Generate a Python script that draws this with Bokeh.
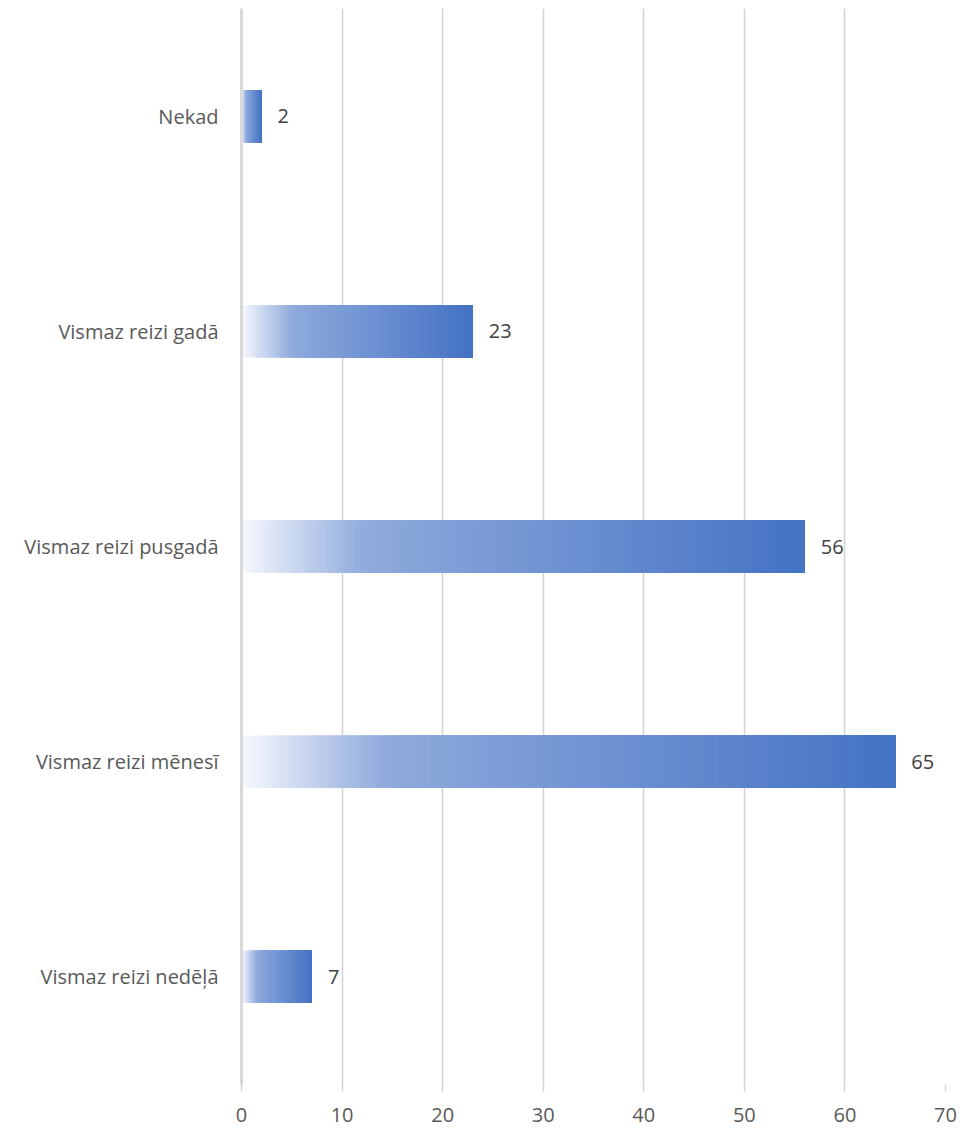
from bokeh.plotting import figure
from bokeh.models import FactorRange, Range1d, ColumnDataSource
from bokeh.core.properties import value
from bokeh.embed import file_html
from bokeh.resources import INLINE

categories = ["Nekad", "Vismaz reizi gadā", "Vismaz reizi pusgadā", "Vismaz reizi mēnesī", "Vismaz reizi nedēļā"]
values = [2, 23, 56, 65, 7]
x_ticks = [0, 10, 20, 30, 40, 50, 60, 70]

FONT = "Open Sans"
TXT = "#595959"
FS = "20px"

p = figure(width=963, height=1130, output_backend="svg", toolbar_location=None,
           y_range=FactorRange(factors=list(reversed(categories))),
           x_range=Range1d(0, 70),
           min_border_left=241, min_border_right=18, min_border_top=8, min_border_bottom=46)
p.outline_line_color = None
p.background_fill_color = "white"

def grad(t):
    light = (246, 248, 253)
    mid = (143, 170, 220)
    dark = (68, 114, 196)
    if t < 0.22:
        f = t / 0.22
        a, b = light, mid
    else:
        f = (t - 0.22) / 0.78
        a, b = mid, dark
    c = [int(round(a[k] + (b[k] - a[k]) * f)) for k in range(3)]
    return "#%02x%02x%02x" % tuple(c)

N = 100
ys, lefts, rights, cols = [], [], [], []
for cat, v in zip(categories, values):
    for i in range(N):
        ys.append(cat)
        lefts.append(v * i / N)
        rights.append(v)
        cols.append(grad((i + 0.5) / N))
src = ColumnDataSource(dict(y=ys, left=lefts, right=rights, color=cols))
p.hbar(y="y", left="left", right="right", height=0.242, fill_color="color", line_color=None, source=src)

lab = ColumnDataSource(dict(y=categories, x=values, t=[str(v) for v in values]))
p.text(x="x", y="y", text="t", source=lab, x_offset=16, text_baseline="middle", text_align="left",
       text_font=value(FONT), text_font_size=FS, text_color="#404040")

p.xgrid.grid_line_color = "#D2D2D2"
p.xgrid.grid_line_width = 1.5
p.ygrid.grid_line_color = None

p.xaxis.ticker = x_ticks
p.xaxis.axis_line_color = None
p.xaxis.major_tick_line_color = "#D2D2D2"
p.xaxis.major_tick_line_width = 1.5
p.xaxis.major_tick_in = 0
p.xaxis.major_tick_out = 7
p.xaxis.minor_tick_line_color = None
p.xaxis.major_label_standoff = 16
p.xaxis.major_label_text_font = FONT
p.xaxis.major_label_text_font_size = FS
p.xaxis.major_label_text_color = TXT

p.yaxis.axis_line_color = "#D9D9D9"
p.yaxis.axis_line_width = 3
p.yaxis.major_tick_line_color = None
p.yaxis.minor_tick_line_color = None
p.yaxis.major_label_standoff = 17
p.yaxis.major_label_text_font = FONT
p.yaxis.major_label_text_font_size = FS
p.yaxis.major_label_text_color = TXT

open("out.html", "w").write(file_html(p, INLINE))
